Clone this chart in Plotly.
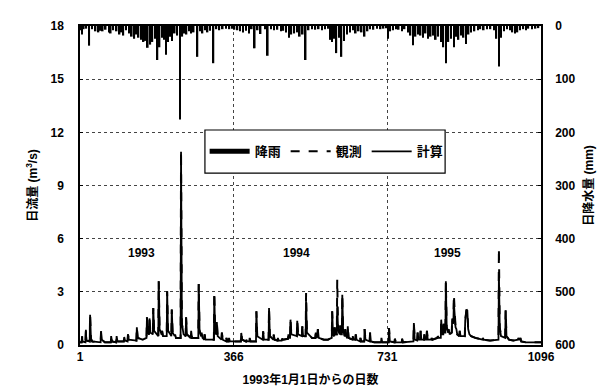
import plotly.graph_objects as go

# ---------------- data ----------------
rain_days = [3, 6, 10, 16, 23, 30, 38, 45, 49, 55, 62, 70, 74, 80, 88, 95, 100, 104, 110, 118,
             124, 130, 134, 140, 146, 152, 157, 162, 168, 173, 180, 185, 190, 196, 201, 205, 210,
             215, 220, 226, 232, 239, 244, 248, 254, 260, 265, 271, 280, 286, 292, 298, 304, 310,
             318, 325, 332, 340, 348, 356, 362,
             368, 375, 381, 388, 395, 402, 409, 416, 423, 430, 440, 447, 455, 462, 470, 478, 484,
             490, 497, 503, 510, 517, 523, 530, 537, 544, 552, 560, 568, 576, 583, 590, 596, 600,
             605, 610, 616, 622, 628, 635, 642, 650, 656, 663, 670, 677, 684, 690, 698, 706, 715,
             722, 728,
             733, 738, 745, 752, 758, 766, 772, 780, 786, 792, 798, 804, 810, 816, 822, 828, 834,
             840, 846, 852, 858, 864, 870, 876, 882, 889, 894, 900, 906, 912, 918, 924, 930, 938,
             946, 952, 960, 968, 976, 984, 990, 996, 1001, 1008, 1015, 1022, 1028, 1034, 1040,
             1046, 1054, 1060, 1066, 1075, 1083, 1090]
rain_mm = [8, 16, 6, 5, 37, 6, 10, 12, 9, 10, 7, 12, 14, 8, 10, 16, 12, 18, 8, 14,
           20, 24, 16, 22, 26, 30, 28, 41, 35, 30, 24, 64, 40, 22, 26, 54, 30,
           20, 28, 14, 18, 176, 20, 14, 16, 10, 14, 12, 58, 10, 14, 8, 12, 9,
           70, 6, 8, 6, 5, 6, 5,
           7, 8, 10, 12, 9, 14, 6, 42, 8, 15, 6, 56, 6, 8, 7, 10, 9,
           12, 22, 16, 14, 12, 20, 16, 64, 8, 6, 7, 6, 8, 6, 5, 26, 30,
           24, 51, 22, 58, 28, 16, 12, 8, 14, 10, 12, 20, 10, 6, 7, 5, 6,
           5, 4,
           24, 10, 8, 6, 7, 10, 6, 12, 18, 36, 20, 16, 18, 22, 14, 24, 20,
           18, 26, 20, 30, 40, 70, 30, 24, 40, 20, 26, 18, 22, 34, 16, 12, 10,
           8, 6, 8, 6, 6, 8, 24, 76, 22, 10, 6, 8, 12, 14, 12,
           8, 6, 8, 5, 6, 5, 4]

flow_days = [1, 5, 6, 7, 14, 15, 16, 24, 25, 27, 30, 50, 51, 53, 60, 74, 75, 77, 87, 88, 90,
             105, 106, 108, 114, 115, 117, 135, 136, 138, 150, 159, 160, 162, 165, 166, 168,
             174, 175, 177, 187, 188, 190, 195, 196, 198, 207, 208, 210, 218, 219, 221, 226,
             227, 229, 240, 241, 243, 247, 252, 253, 255, 264, 265, 267, 282, 283, 285, 289,
             290, 292, 296, 297, 299, 319, 320, 322, 325, 326, 328, 337, 338, 340, 348, 349,
             351, 354, 355, 357, 383, 384, 386, 395, 396, 398, 403, 404, 406, 419, 420, 422,
             435, 436, 438, 449, 450, 452, 460, 461, 463, 470, 471, 473, 480, 481, 483, 495,
             496, 498, 500, 501, 503, 516, 517, 519, 528, 529, 531, 537, 538, 540, 548, 552,
             560, 561, 563, 565, 566, 568, 580, 590, 599, 600, 602, 605, 606, 608, 611, 612,
             614, 618, 619, 621, 623, 624, 626, 630, 631, 633, 636, 637, 639, 648, 649, 651,
             655, 656, 658, 666, 667, 669, 676, 677, 679, 689, 690, 692, 700, 716, 717, 719,
             734, 735, 737, 748, 749, 751, 765, 766, 768, 793, 794, 796, 802, 803, 805, 809,
             810, 812, 818, 819, 821, 824, 825, 827, 835, 836, 838, 850, 851, 853, 858, 859,
             861, 864, 865, 867, 869, 870, 872, 876, 877, 879, 884, 885, 887, 888, 889, 891,
             893, 895, 897, 902, 903, 905, 915, 916, 918, 919, 921, 923, 926, 930, 940, 957,
             958, 960, 975, 995, 996, 998, 1001, 1011, 1012, 1014, 1020, 1030, 1041, 1042,
             1044, 1046, 1047, 1049, 1060, 1096]
obs_flow = [0.15, 0.15, 0.49, 0.2, 0.15, 0.86, 0.25, 0.2, 1.71, 0.35, 0.2, 0.15, 0.77, 0.3, 0.15,
            0.15, 0.5, 0.2, 0.15, 0.5, 0.2,
            0.2, 0.45, 0.25, 0.2, 0.6, 0.3, 0.25, 1.0, 0.4, 0.3, 0.4, 1.56, 0.7, 0.6, 1.5, 0.7,
            0.6, 2.09, 0.8, 0.5, 3.6, 0.9, 0.6, 0.8, 0.5, 0.5, 3.03, 0.8, 0.5, 2.0, 0.7, 0.5,
            0.6, 0.4, 0.4, 10.95, 1.2, 0.6, 0.5, 1.56, 0.6, 0.4, 0.8, 0.4, 0.4, 3.44, 0.8, 0.5,
            0.7, 0.4, 0.3, 0.6, 0.3, 0.3, 3.0, 0.8, 0.6, 1.3, 0.5, 0.3, 0.7, 0.3, 0.2, 0.4,
            0.2, 0.2, 0.4, 0.2, 0.2, 0.68, 0.3, 0.2, 0.3, 0.2, 0.2, 0.4, 0.2, 0.2, 1.9, 0.5,
            0.3, 0.77, 0.3, 0.3, 2.09, 0.5, 0.3, 0.6, 0.3, 0.25, 0.4, 0.25, 0.25, 0.35, 0.3, 0.35,
            0.6, 0.4, 0.4, 1.43, 0.6, 0.5, 1.37, 0.6, 0.5, 1.05, 0.5, 0.5, 2.93, 0.7, 0.5, 0.4,
            0.4, 0.7, 0.4, 0.5, 0.9, 0.4, 0.3, 0.3, 0.4, 1.9, 0.6, 0.5, 1.0, 0.6, 0.6, 3.69,
            0.9, 0.6, 1.1, 0.6, 0.6, 2.84, 0.8, 0.5, 0.9, 0.5, 0.4, 1.05, 0.4, 0.3, 0.5, 0.3,
            0.3, 0.6, 0.3, 0.2, 0.4, 0.2, 0.2, 0.9, 0.3, 0.2, 0.7, 0.2, 0.15, 0.15, 0.4, 0.15,
            0.15, 0.96, 0.2, 0.15, 0.35, 0.15, 0.15, 0.35, 0.15, 0.2, 1.24, 0.3, 0.25, 0.7, 0.3, 0.3,
            0.8, 0.3, 0.3, 0.6, 0.3, 0.3, 0.8, 0.3, 0.3, 0.4, 0.3, 0.4, 0.5, 0.4, 0.4, 1.43,
            0.6, 0.6, 1.2, 0.7, 0.7, 3.59, 1.0, 0.7, 0.9, 0.6, 0.7, 1.5, 1.2, 1.4, 2.84, 1.6,
            1.0, 0.9, 0.6, 0.5, 0.8, 0.5, 0.5, 1.4, 1.7, 2.0, 1.95, 0.9, 0.6, 0.5, 0.4, 0.3,
            0.4, 0.3, 0.25, 0.3, 5.47, 1.0, 0.5, 0.4, 1.96, 0.5, 0.3, 0.25, 0.3, 0.4,
            0.3, 0.3, 0.4, 0.2, 0.15, 0.15]
# computed values that differ from the observed ones (day -> value)
calc_diff_days = [320, 538, 612, 889, 996, 241]
calc_diff_vals = [2.75, 2.46, 2.13, 2.4, 4.06, 10.9]

year_labels = ["1993", "1994", "1995"]
year_label_days = [148, 516, 875]

x_ticks = [1, 366, 731, 1096]
flow_ticks = [0, 3, 6, 9, 12, 15, 18]
rain_ticks = [0, 100, 200, 300, 400, 500, 600]

# ------------------------------------------------------------------------
calc_map = dict(zip(calc_diff_days, calc_diff_vals))
calc_flow = [calc_map.get(d, v) for d, v in zip(flow_days, obs_flow)]

FONT = "Liberation Sans, Arial, Noto Sans CJK JP, sans-serif"
TICKFONT = dict(family=FONT, size=12, color="black", weight="bold")

fig = go.Figure()
fig.add_trace(go.Bar(x=rain_days, y=rain_mm, base=0, width=3.8, yaxis="y2",
                     marker=dict(color="black", line=dict(width=0)), name="降雨",
                     showlegend=False))
# legend key for rainfall: a wide thick black bar, as in the reference
fig.add_trace(go.Scatter(x=[None], y=[None], mode="lines", name="降雨",
                         line=dict(color="black", width=5)))
fig.add_trace(go.Scatter(x=flow_days, y=obs_flow, mode="lines", name="観測",
                         line=dict(color="black", width=2, dash="dash")))
fig.add_trace(go.Scatter(x=flow_days, y=calc_flow, mode="lines", name="計算",
                         line=dict(color="black", width=1.8)))

for lab, d in zip(year_labels, year_label_days):
    fig.add_annotation(x=d, y=5.2, xref="x", yref="y", text=lab, showarrow=False,
                       font=TICKFONT)

# legend frame (taller than plotly's own legend border)
fig.add_shape(type="rect", xref="paper", yref="paper", x0=0.271, x1=0.792, y0=0.539, y1=0.674,
              line=dict(color="black", width=1.2), fillcolor="white", layer="above")

fig.update_layout(
    width=606, height=391,
    margin=dict(l=72, r=73, t=18, b=54),
    paper_bgcolor="white", plot_bgcolor="white",
    font=dict(family=FONT, size=12, color="black"),
    showlegend=True,
    legend=dict(orientation="h", x=0.535, y=0.607, xanchor="center", yanchor="middle",
                bgcolor="rgba(0,0,0,0)", borderwidth=0,
                font=dict(size=13, color="black", family=FONT, weight="bold"), itemwidth=40),
    xaxis=dict(range=[1, 1096], tickvals=x_ticks, ticktext=[str(v) for v in x_ticks],
               tickfont=TICKFONT,
               showline=True, linecolor="black", linewidth=1.5, mirror=True,
               ticks="inside", ticklen=3, tickcolor="black",
               showgrid=True, gridcolor="#444", griddash="dot", gridwidth=1,
               zeroline=False,
               title=dict(text="1993年1月1日からの日数", font=dict(size=12, weight="bold"),
                          standoff=12)),
    yaxis=dict(range=[0, 18], tickvals=flow_ticks, tickfont=TICKFONT,
               showline=True, linecolor="black", linewidth=1.5,
               ticks="inside", ticklen=3, tickcolor="black", ticklabelstandoff=12,
               showgrid=True, gridcolor="#444", griddash="dot", gridwidth=1,
               zeroline=False,
               title=dict(text="日流量 (m<sup>3</sup>/s)", font=dict(size=12, weight="bold"),
                          standoff=10)),
    yaxis2=dict(range=[600, 0], tickvals=rain_ticks, overlaying="y", side="right",
                tickfont=TICKFONT,
                showline=True, linecolor="black", linewidth=1.5,
                ticks="inside", ticklen=3, tickcolor="black", ticklabelstandoff=10,
                showgrid=False, zeroline=False,
                title=dict(text="日降水量 (mm)", font=dict(size=12, weight="bold"), standoff=10)),
)

fig.write_html("out.html")
